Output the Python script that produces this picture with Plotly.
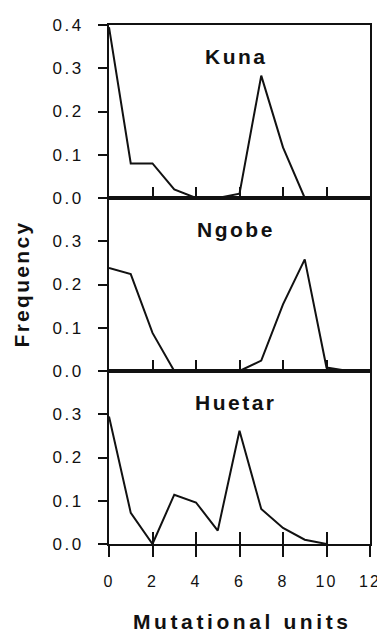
import plotly.graph_objects as go
from plotly.subplots import make_subplots

kuna_x = [0, 1, 2, 3, 4, 5, 6, 7, 8, 9]
kuna_y = [0.395, 0.08, 0.08, 0.02, 0.0, 0.0, 0.01, 0.283, 0.117, 0.0]

ngobe_x = [0, 1, 2, 3, 4, 5, 6, 7, 8, 9, 10, 11]
ngobe_y = [0.238, 0.224, 0.088, 0.0, 0.0, 0.0, 0.0, 0.024, 0.154, 0.258, 0.008, 0.0]

huetar_x = [0, 1, 2, 3, 4, 5, 6, 7, 8, 9, 10]
huetar_y = [0.295, 0.072, 0.0, 0.114, 0.096, 0.031, 0.262, 0.081, 0.037, 0.01, 0.0]

panel_names = ["Kuna", "Ngobe", "Huetar"]
x_ticks = [0, 2, 4, 6, 8, 10, 12]
y_ticks_top = [0.0, 0.1, 0.2, 0.3, 0.4]
y_ticks = [0.0, 0.1, 0.2, 0.3]

FONT = "Liberation Sans, Arial, sans-serif"
INK = "#111111"


def spaced(s, px):
    return f'<span style="letter-spacing:{px}px">{s}</span>'


# The page body has an 8px margin, so the figure is sized to fit the window.
W, H = 377, 626
ML, MR, MT, MB = 101, 15, 17, 90
PW, PH = W - ML - MR, H - MT - MB

fig = make_subplots(rows=3, cols=1, shared_xaxes=False, vertical_spacing=0)

series = [(kuna_x, kuna_y), (ngobe_x, ngobe_y), (huetar_x, huetar_y)]
for i, (xs, ys) in enumerate(series):
    fig.add_trace(go.Scatter(x=xs, y=ys, mode="lines",
                             line=dict(color=INK, width=2),
                             showlegend=False, hoverinfo="skip"),
                  row=i + 1, col=1)

for i in range(3):
    r = i + 1
    last = (r == 3)
    yt = y_ticks_top if r == 1 else y_ticks
    fig.update_xaxes(range=[0, 12], tickvals=x_ticks,
                     ticktext=[spaced(str(v), 2) for v in x_ticks],
                     ticks="outside" if last else "inside",
                     ticklen=11, tickwidth=2, tickcolor=INK,
                     showticklabels=last, automargin=False,
                     ticklabelstandoff=11 if last else 0,
                     showline=True, linecolor=INK, linewidth=2, mirror=True,
                     showgrid=False, zeroline=False,
                     tickfont=dict(family=FONT, size=16, color=INK),
                     row=r, col=1)
    fig.update_yaxes(range=[0, 0.4], tickvals=yt,
                     ticktext=[spaced(f"{v:.1f}", 2.5) for v in yt],
                     ticks="outside", ticklen=9, tickwidth=2, tickcolor=INK,
                     ticklabelstandoff=11,
                     showline=True, linecolor=INK, linewidth=2, mirror=True,
                     showgrid=False, zeroline=False, automargin=False,
                     tickfont=dict(family=FONT, size=17, color=INK),
                     row=r, col=1)

# helper axis: inside ticks on the bottom panel so the ticks cross the axis
fig.add_trace(go.Scatter(x=x_ticks, y=[None] * len(x_ticks), xaxis="x4", yaxis="y3",
                         mode="lines", showlegend=False, hoverinfo="skip"))
fig.update_layout(xaxis4=dict(overlaying="x3", anchor="y3", side="bottom",
                              range=[0, 12], tickvals=x_ticks, ticks="inside",
                              ticklen=12, tickwidth=2, tickcolor=INK,
                              showticklabels=False, showgrid=False, zeroline=False,
                              showline=False, automargin=False, visible=True))

for i, name in enumerate(panel_names):
    yref = "y" if i == 0 else f"y{i + 1}"
    xref = "x" if i == 0 else f"x{i + 1}"
    fig.add_annotation(x=5.85, y=0.327, xref=xref, yref=yref,
                       text=f"<b>{spaced(name, 2.5)}</b>",
                       showarrow=False, font=dict(family=FONT, size=21, color=INK))

fig.add_annotation(x=(13 - ML) / PW, y=0.5, xref="paper", yref="paper",
                   xanchor="center", yanchor="middle",
                   text=f"<b>{spaced('Frequency', 2.3)}</b>", textangle=-90,
                   showarrow=False, font=dict(family=FONT, size=21, color=INK))

fig.add_annotation(x=6.15, y=-(613 - (H - MB)) / PH, xref="x3", yref="paper",
                   text=f"<b>{spaced('Mutational units', 3.6)}</b>",
                   showarrow=False, yanchor="middle",
                   font=dict(family=FONT, size=21, color=INK))

fig.update_layout(width=W, height=H,
                  margin=dict(l=ML, r=MR, t=MT, b=MB, autoexpand=False),
                  plot_bgcolor="white", paper_bgcolor="white")

fig.write_html("out.html")
